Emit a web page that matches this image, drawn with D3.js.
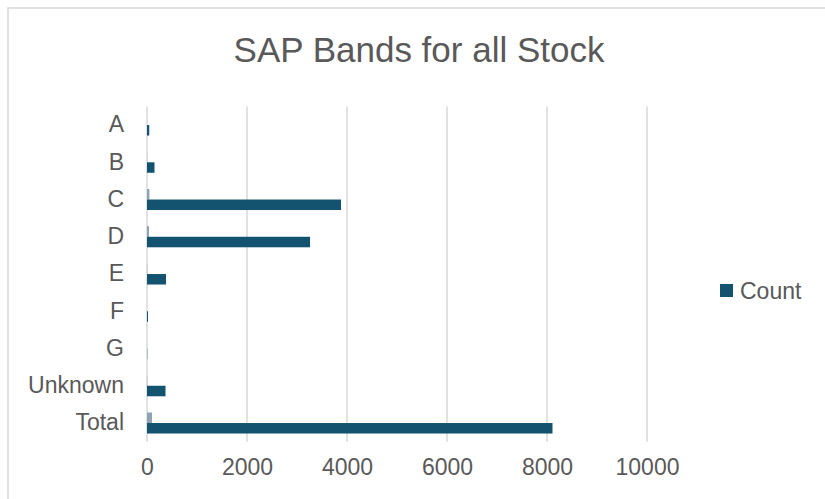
<!DOCTYPE html>
<html>
<head>
<meta charset="utf-8">
<script src="https://cdn.jsdelivr.net/npm/d3@7"></script>
<style>
  html, body { margin: 0; padding: 0; background: #fff; }
  svg { display: block; }
  text { font-family: "Liberation Sans", Arial, sans-serif; fill: #595959; }
</style>
</head>
<body>
<svg id="chart" width="825" height="499"></svg>
<script>
// SAP band counts for all stock, plus each band's share of the total (%)
const categories = ["A", "B", "C", "D", "E", "F", "G", "Unknown", "Total"];
const countValues = [45, 150, 3880, 3260, 380, 20, 5, 370, 8110];
const percentValues = [0.6, 1.8, 47.8, 40.2, 4.7, 0.2, 0.1, 4.6, 100];
const xTicks = [0, 2000, 4000, 6000, 8000, 10000];
const titleText = "SAP Bands for all Stock";
const legendLabel = "Count";

const colors = { count: "#14536F", percent: "#8EA3B5", grid: "#D9D9D9" };
const labelFont = "23px";

const svg = d3.select("#chart");

// Outer chart frame
svg.append("rect")
  .attr("x", 8).attr("y", 8)
  .attr("width", 840).attr("height", 520)
  .attr("fill", "#fff")
  .attr("stroke", colors.grid)
  .attr("stroke-width", 1.6);

const plot = { left: 147, right: 647, top: 106.4, bottom: 441.65 };

const x = d3.scaleLinear().domain([0, 10000]).range([plot.left, plot.right]);

const y = d3.scaleBand()
  .domain(categories)
  .range([plot.top, plot.bottom])
  .paddingInner(0.436)
  .paddingOuter(0.218);

const series = ["percent", "count"];
const ySub = d3.scaleBand().domain(series).range([0, y.bandwidth()]);

// Vertical gridlines
svg.append("g")
  .selectAll("line")
  .data(xTicks)
  .join("line")
  .attr("x1", d => x(d)).attr("x2", d => x(d))
  .attr("y1", plot.top).attr("y2", plot.bottom)
  .attr("stroke", colors.grid)
  .attr("stroke-width", 1.5);

// Bars
const rows = categories.map((c, i) => ({
  category: c,
  percent: percentValues[i],
  count: countValues[i]
}));

const groups = svg.append("g")
  .selectAll("g")
  .data(rows)
  .join("g")
  .attr("transform", d => `translate(0,${y(d.category)})`);

groups.selectAll("rect")
  .data(d => series.map(s => ({ key: s, value: d[s] })))
  .join("rect")
  .attr("x", x(0))
  .attr("y", d => ySub(d.key))
  .attr("width", d => x(d.value) - x(0))
  .attr("height", ySub.bandwidth())
  .attr("fill", d => colors[d.key]);

// Bottom axis labels
const xAxis = svg.append("g")
  .attr("transform", `translate(0,${plot.bottom})`)
  .call(d3.axisBottom(x).tickValues(xTicks).tickFormat(d3.format("d")).tickSize(0).tickPadding(17.5));
xAxis.select(".domain").remove();
xAxis.selectAll("text")
  .style("font-size", labelFont)
  .style("font-family", "\"Liberation Sans\", Arial, sans-serif")
  .attr("fill", "#595959");

// Category labels
const yAxis = svg.append("g")
  .attr("transform", `translate(${plot.left},0)`)
  .call(d3.axisLeft(y).tickSize(0).tickPadding(23));
yAxis.select(".domain").remove();
yAxis.selectAll("text")
  .style("font-size", labelFont)
  .style("font-family", "\"Liberation Sans\", Arial, sans-serif")
  .attr("fill", "#595959");

// Title
svg.append("text")
  .attr("x", 419)
  .attr("y", 62)
  .attr("text-anchor", "middle")
  .style("font-size", "35px")
  .text(titleText);

// Legend
const legend = svg.append("g").attr("transform", "translate(720,284)");
legend.append("rect")
  .attr("width", 13).attr("height", 13)
  .attr("fill", colors.count);
legend.append("text")
  .attr("x", 20)
  .attr("y", 14.5)
  .style("font-size", labelFont)
  .text(legendLabel);
</script>
</body>
</html>
